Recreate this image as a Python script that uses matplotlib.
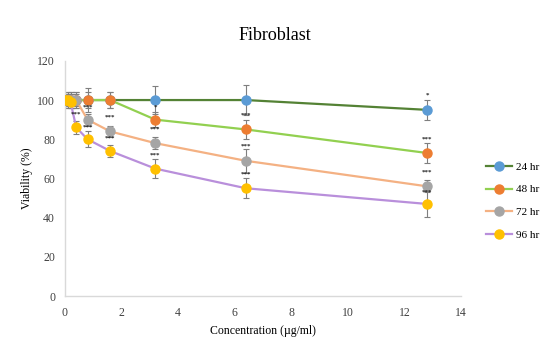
import matplotlib.pyplot as plt
from matplotlib.lines import Line2D

# data
conc = [0, 0.1, 0.2, 0.4, 0.8, 1.6, 3.2, 6.4, 12.8]
labels = ['24 hr', '48 hr', '72 hr', '96 hr']

v24 = [100, 100, 100, 100, 100, 100, 100, 100, 95]
v48 = [100, 100, 100, 100, 100, 100, 90, 85, 73]
v72 = [100, 100, 100, 100, 90, 84, 78, 69, 56]
v96 = [100, 100, 99, 86, 80, 74, 65, 55, 47]

e24 = [4, 4, 4, 4, 4, 4, 7, 7.5, 5]
e48 = [3, 3, 3, 3, 6, 4, 4, 5, 5]
e72 = [3, 3, 4, 4, 3, 3, 3, 6, 3]
e96 = [2, 2, 3, 3.5, 4, 3, 5, 5, 6.5]

# significance marks (x, y, text)
stars = [
    (0.4, 93, '***'), (0.8, 96.5, '***'), (0.8, 86, '***'),
    (1.6, 91.5, '***'), (1.6, 80.5, '***'),
    (3.2, 96.5, '*'), (3.2, 85, '***'), (3.2, 72, '***'),
    (6.4, 92.5, '***'), (6.4, 76.5, '***'), (6.4, 62, '***'),
    (12.8, 102.5, '*'), (12.8, 80, '***'), (12.8, 63, '***'), (12.8, 53, '***'),
]

line_cols = ['#548235', '#92D050', '#F4B183', '#B98FDB']
mark_cols = ['#5B9BD5', '#ED7D31', '#A5A5A5', '#FFC000']

plt.rcParams['font.family'] = ['Liberation Serif', 'DejaVu Serif']

fig = plt.figure(figsize=(5.5, 3.38), dpi=100)
ax = fig.add_axes([0.118, 0.124, 0.72, 0.696])

series = [v24, v48, v72, v96]
errs = [e24, e48, e72, e96]
handles = []
for vals, err, lc, mc, lab in zip(series, errs, line_cols, mark_cols, labels):
    ax.errorbar(conc, vals, yerr=err, fmt='none', ecolor='#7F7F7F',
                elinewidth=0.8, capsize=2.5, capthick=0.8, zorder=2)
    ax.plot(conc, vals, color=lc, linewidth=1.6, zorder=3)
    ax.plot(conc, vals, linestyle='none', marker='o', markersize=6.5,
            markerfacecolor=mc, markeredgecolor=mc, zorder=4)
    handles.append(Line2D([], [], color=lc, linewidth=1.6, marker='o',
                          markersize=6.5, markerfacecolor=mc,
                          markeredgecolor=mc, label=lab))

for x, y, s in stars:
    ax.text(x, y, s, ha='center', va='center', fontsize=5,
            fontweight='bold', color='#222222', zorder=5)

ax.set_xlim(0, 14)
ax.set_ylim(0, 120)
ax.set_xticks(range(0, 15, 2))
ax.set_yticks(range(0, 121, 20))
ax.tick_params(length=0, labelsize=8.5, colors='#404040')
ax.tick_params(axis='x', pad=8)
ax.tick_params(axis='y', pad=7)
for sp in ['top', 'right']:
    ax.spines[sp].set_visible(False)
for sp in ['left', 'bottom']:
    ax.spines[sp].set_color('#D9D9D9')
    ax.spines[sp].set_linewidth(1)

ax.set_xlabel('Concentration (µg/ml)', fontsize=8.5, labelpad=4)
ax.set_ylabel('Viability (%)', fontsize=8.5, labelpad=3)
fig.text(0.5, 0.895, 'Fibroblast', ha='center', va='center', fontsize=13)

fig.legend(handles=handles, loc='upper left', bbox_to_anchor=(0.865, 0.55),
           frameon=False, fontsize=8, handlelength=2.4, labelspacing=1.15,
           handletextpad=0.3, numpoints=1)

fig.savefig('out.png', dpi=100)
